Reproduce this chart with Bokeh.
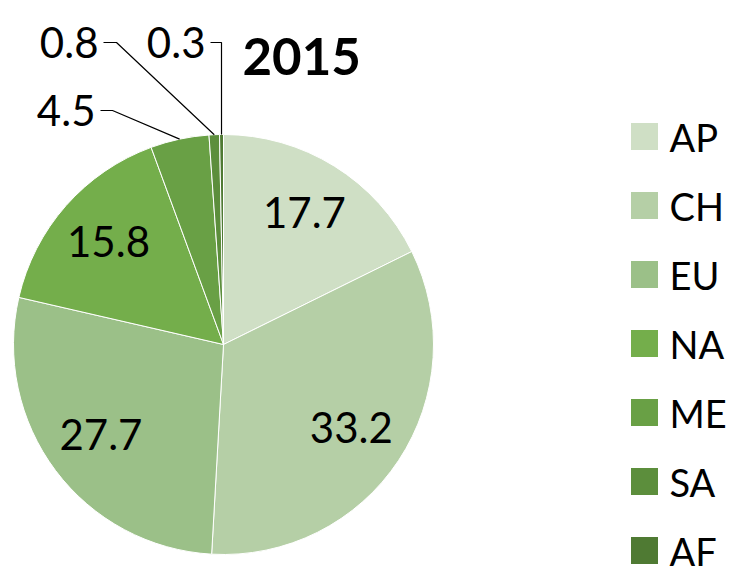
import numpy as np
from bokeh.plotting import figure
from bokeh.models import Range1d, ColumnDataSource
from bokeh.core.properties import value
from bokeh.embed import file_html
from bokeh.resources import INLINE

# ---- data ----
categories = ["AP", "CH", "EU", "NA", "ME", "SA", "AF"]
shares = [17.7, 33.2, 27.7, 15.8, 4.5, 0.8, 0.3]
labels = ["17.7", "33.2", "27.7", "15.8", "4.5", "0.8", "0.3"]
colors = ["#cfdfc5", "#b5cfa6", "#9bc088", "#74ae4b", "#69a045", "#5c8e3c", "#4f7a33"]
title_text = "2015"

FONT = "Lato"
W, H = 740, 576
OFF = 0


def X(px):
    return px - OFF


def Y(py):
    return H + OFF - py


p = figure(width=W, height=H, x_range=Range1d(0, W), y_range=Range1d(0, H),
           output_backend="svg", toolbar_location=None, min_border=0)
p.axis.visible = False
p.grid.visible = False
p.outline_line_color = None
p.background_fill_color = "white"

cx, cy, R = X(223), Y(344), 210.0
vals = np.array(shares, dtype=float)
frac = vals / vals.sum()
cum_end = np.cumsum(frac)
cum_start = cum_end - frac
start = np.pi / 2 - cum_start * 2 * np.pi
end = np.pi / 2 - cum_end * 2 * np.pi
mid = (start + end) / 2

src = ColumnDataSource(dict(start=start, end=end, color=colors, cat=categories))
p.wedge(x=cx, y=cy, radius=R, start_angle="start", end_angle="end",
        direction="clock", fill_color="color", line_color="white",
        line_width=1, source=src)

# inside labels
rin = 0.73 * R
inside = [0, 1, 2, 3]
p.text(x=[cx + rin * np.cos(mid[i]) for i in inside],
       y=[cy + rin * np.sin(mid[i]) + 2 for i in inside],
       text=[labels[i] for i in inside],
       text_font=value(FONT), text_font_size="42px", text_color="black",
       text_align="center", text_baseline="middle")

# outside labels with leader lines (elbow positions in screen pixels)
elbows = {4: (112, 110, 100), 5: (116, 42, 103), 6: (221, 42, 210)}
for i, (ex, ey, hx) in elbows.items():
    px_ = cx + R * np.cos(mid[i])
    py_ = cy + R * np.sin(mid[i])
    p.line(x=[px_, X(ex), X(hx)], y=[py_, Y(ey), Y(ey)], line_color="black", line_width=1.2)
    p.text(x=[X(hx) - 5], y=[Y(ey)], text=[labels[i]],
           text_font=value(FONT), text_font_size="42px", text_color="black",
           text_align="right", text_baseline="alphabetic")

# title
p.text(x=[X(242)], y=[Y(56)], text=[title_text], text_font=value(FONT),
       text_font_size="51px", text_font_style="bold", text_color="black",
       text_align="left", text_baseline="alphabetic")

# legend
ly = [Y(136 + 69 * k) for k in range(len(categories))]
p.rect(x=[X(644)] * len(categories), y=ly, width=27, height=27,
       fill_color=colors, line_color=None)
p.text(x=[X(669)] * len(categories), y=ly, text=categories,
       text_font=value(FONT), text_font_size="38px", text_color="black",
       text_align="left", text_baseline="middle")

open("out.html", "w").write(file_html(p, INLINE))
